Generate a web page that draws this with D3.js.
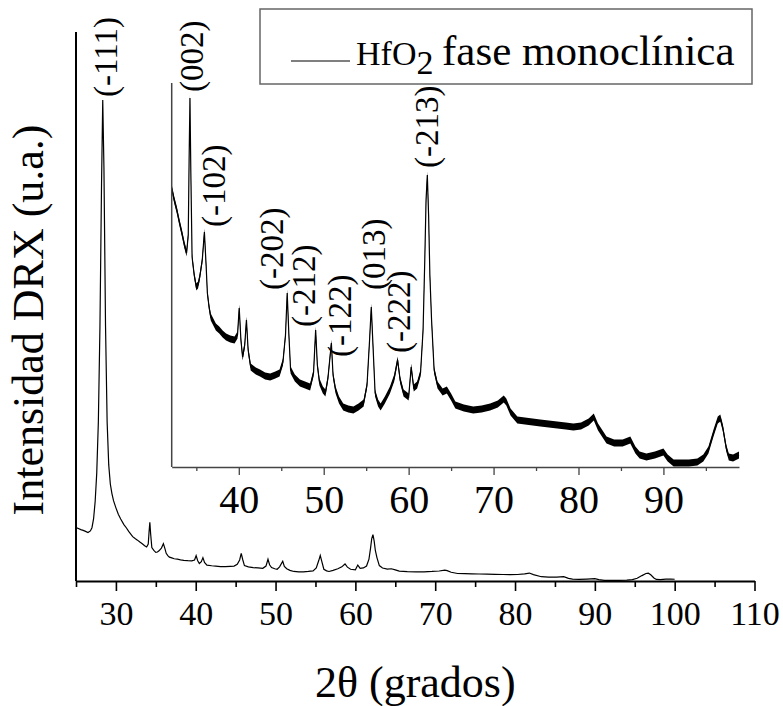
<!DOCTYPE html>
<html><head><meta charset="utf-8">
<script src="https://cdn.jsdelivr.net/npm/d3@7"></script>
<style>body{margin:0;background:#fff}</style>
</head><body><svg id="c" width="783" height="706"></svg>
<script>
// ---- data ----
const twoTheta = [25.0,25.3,25.6,25.9,26.2,26.5,26.8,27.0,27.2,27.4,27.6,27.8,28.0,28.2,28.35,28.5,28.7,28.9,29.1,29.3,29.5,29.7,30.0,30.3,30.6,31.0,31.3,31.6,
32.1,32.4,32.7,33.0,33.3,33.6,33.85,34.05,34.15,34.25,34.35,34.5,34.75,35.0,35.2,35.4,35.7,35.95,36.15,36.3,36.5,36.7,37.0,37.3,37.7,38.1,38.5,39.0,39.5,39.85,40.05,40.25,40.45,40.7,40.9,41.1,41.4,42.0,42.5,43.1,43.7,44.3,44.8,45.2,45.5,45.7,45.9,46.1,46.6,47.2,47.8,48.4,48.8,49.05,49.25,49.5,49.9,50.2,50.5,50.9,51.1,51.4,51.8,52.3,52.9,53.5,54.1,54.7,55.1,55.4,55.6,55.8,56.05,56.4,56.7,57.2,57.8,58.3,58.7,59.0,59.4,60.0,60.3,60.6,61.0,61.4,61.7,61.9,62.05,62.2,62.35,62.5,62.7,63.0,63.4,64.0,64.5,65.0,65.5,66.5,67.6,68.6,69.6,70.5,71.2,71.5,72.0,72.8,73.7,74.6,75.5,76.5,77.5,78.5,79.4,80.3,81.2,81.8,82.3,83.3,84.2,85.2,86.1,86.7,87.2,88.0,89.0,90.0,90.5,91.2,92.0,93.0,94.0,94.7,95.3,95.9,96.4,96.7,97.0,97.4,97.7,98.2,98.9,99.5,100.0];
const intensity = [3360,3300,3230,3180,3120,3050,3150,3350,3900,5000,6800,10000,16000,25000,30240,26000,16000,10000,7300,6100,5500,5050,4600,4200,3900,3550,3350,3120,
2790,2670,2570,2450,2340,2220,2140,2320,3070,3690,2970,2100,1920,1800,1820,1900,2070,2350,2020,1740,1600,1500,1450,1400,1370,1330,1300,1280,1270,1320,1590,1270,1100,1220,1470,1170,1000,960,940,910,900,920,940,1050,1320,1740,1320,970,890,840,820,800,940,1370,1020,850,770,740,890,1240,920,770,670,600,580,570,600,640,820,1270,1600,1220,740,640,600,670,770,890,1070,870,740,700,1000,790,820,940,1370,2070,2670,2920,2520,1920,1470,970,820,750,770,700,620,590,570,580,600,630,680,650,550,470,460,450,440,430,420,410,400,410,450,500,400,270,240,240,270,170,120,100,120,150,90,40,40,40,50,90,170,340,470,490,390,190,100,90,120,120,110];
const noiseHalf = 35;                 // half height of the visible noise band
const mainTickValues = [25,30,35,40,45,50,55,60,65,70,75,80,85,90,95,100,105,110];
const insetTickValues = [35,40,45,50,55,60,65,70,75,80,85,90,95];
const mainPeakLabel = "(-111)", mainPeakTheta = 28.9, mainPeakI = 30430;
const insetLabels = ["(002)","(-102)","(-202)","(-212)","(-122)","(013)","(-222)","(-213)"];
const insetLabelTheta = [34.6,37.2,44.02,47.78,52.0,56.0,58.96,62.25];
const insetLabelI = [3750,2400,1770,1400,1100,1770,1140,2990];
const legendText = "fase monoclínica";

const pts = twoTheta.map((t,i)=>({t, v:intensity[i]}));
const svg = d3.select("#c");
const T = (sel,size)=>sel.style("font-family",'"Liberation Serif"').style("font-size",size+"px").attr("fill","#000");

// ---- main chart ----
const x = d3.scaleLinear().domain([25,110]).range([76,754.5]);
const y = d3.scaleLinear().domain([0,34524]).range([581,32]);

svg.append("path").datum(pts)
  .attr("fill","none").attr("stroke","#000").attr("stroke-width",1.2)
  .attr("d", d3.line().x(d=>x(d.t)).y(d=>y(d.v)));

const xAx = d3.axisBottom(x).tickValues(mainTickValues)
  .tickSize(0).tickFormat(d=> d%10===0 ? d : "");
const gx = svg.append("g").attr("transform","translate(0,581)").call(xAx);
gx.attr("font-family",null).attr("font-size",null);
gx.select(".domain").attr("stroke","#000").attr("stroke-width",2);
gx.selectAll(".tick line").attr("y2",d=>d%10===0?10:6).attr("stroke","#000").attr("stroke-width",1.6);
T(gx.selectAll(".tick text").attr("y",44).attr("dy",null),34);

svg.append("line").attr("x1",x(25)).attr("x2",x(25)).attr("y1",y(34524)).attr("y2",581)
  .attr("stroke","#000").attr("stroke-width",2);

// ---- inset ----
const xi = d3.scaleLinear().domain([32.1,98.9]).range([171.7,739]);
const yi = d3.scaleLinear().domain([0,3840]).range([467,83]);
const ipts = pts.filter(d=>d.t>=32.1 && d.t<=98.9);

svg.append("path").datum(ipts).attr("fill","#000")
  .attr("d", d3.area().x(d=>xi(d.t)).y0(d=>yi(Math.max(0,d.v-noiseHalf))).y1(d=>yi(d.v+noiseHalf)));
svg.append("path").datum(ipts).attr("fill","none").attr("stroke","#000").attr("stroke-width",1.2)
  .attr("d", d3.line().x(d=>xi(d.t)).y(d=>yi(d.v)));

const xiAx = d3.axisBottom(xi).tickValues(insetTickValues).tickSize(0).tickFormat(d=>d%10===0?d:"");
const gi = svg.append("g").attr("transform","translate(0,467)").call(xiAx);
gi.attr("font-family",null).attr("font-size",null);
gi.select(".domain").attr("stroke","#444").attr("stroke-width",1.5);
gi.selectAll(".tick line").attr("y2",d=>d%10===0?8:4).attr("stroke","#444").attr("stroke-width",1.3);
T(gi.selectAll(".tick text").attr("y",46).attr("dy",null),40);
svg.append("line").attr("x1",171.7).attr("x2",171.7).attr("y1",yi(3840)).attr("y2",467)
  .attr("stroke","#444").attr("stroke-width",1.5);

// ---- peak labels and titles ----
T(svg.append("text").attr("transform",`translate(${x(mainPeakTheta)},${y(mainPeakI)}) rotate(-90)`)
  .attr("dy","0.3em"),33).text(mainPeakLabel);
T(svg.selectAll("text.pk").data(insetLabels).join("text").attr("class","pk")
  .attr("transform",(d,i)=>`translate(${xi(insetLabelTheta[i])},${yi(insetLabelI[i])}) rotate(-90)`)
  .attr("dy","0.3em"),33).text(d=>d);
T(svg.append("text").attr("x",(x(25)+x(110))/2).attr("y",697).attr("text-anchor","middle"),44)
  .text("2θ (grados)");
T(svg.append("text").attr("transform","translate(43,320) rotate(-90)").attr("text-anchor","middle"),44)
  .text("Intensidad DRX (u.a.)");

// ---- legend ----
const lg = svg.append("g");
lg.append("rect").attr("x",260).attr("y",9).attr("width",492).attr("height",75)
  .attr("fill","#fff").attr("stroke","#666").attr("stroke-width",1.5);
lg.append("line").attr("x1",291).attr("x2",350).attr("y1",61).attr("y2",61).attr("stroke","#000").attr("stroke-width",1.2);
const lt = T(lg.append("text").attr("x",356).attr("y",65),34);
lt.append("tspan").text("HfO");
lt.append("tspan").attr("dy",9).text("2");
T(lg.append("text").attr("x",442).attr("y",65),43).text(legendText);
</script></body></html>
